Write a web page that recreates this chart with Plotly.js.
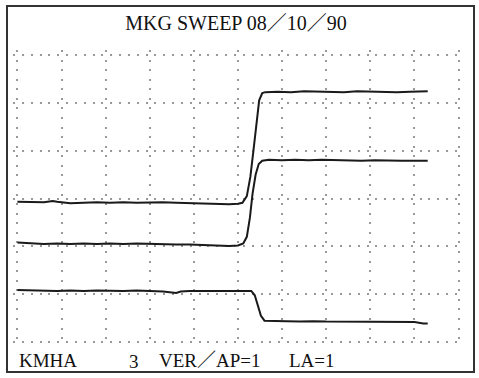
<!DOCTYPE html>
<html>
<head>
<meta charset="utf-8">
<script src="https://cdn.plot.ly/plotly-3.0.1.min.js"></script>
<style>html,body{margin:0;padding:0;background:#fff;}#chart{width:479px;height:378px;}</style>
</head>
<body>
<div id="chart"></div>
<script>
// Values in screen divisions (x: 10 divisions, y: 6 divisions)
const traceA_x = [0.0,0.3,0.6,0.8,0.9,1.2,1.5,1.8,2.1,2.4,2.7,3.0,3.3,3.6,3.9,4.2,4.5,4.8,5.0,5.1,5.2,5.28,5.35,5.42,5.48,5.55,5.62,5.9,6.2,6.5,6.8,7.1,7.4,7.7,8.0,8.3,8.6,8.9,9.1,9.3];
const traceA_y = [2.93,2.93,2.92,2.95,2.93,2.90,2.91,2.92,2.91,2.92,2.91,2.92,2.92,2.91,2.90,2.90,2.89,2.88,2.89,2.91,3.05,3.45,4.00,4.60,5.05,5.20,5.22,5.23,5.22,5.24,5.23,5.23,5.22,5.24,5.23,5.23,5.22,5.23,5.24,5.24];

const traceB_x = [0.0,0.3,0.6,0.9,1.2,1.5,1.8,2.1,2.4,2.7,3.0,3.3,3.6,3.9,4.2,4.5,4.8,5.0,5.12,5.2,5.27,5.33,5.40,5.47,5.55,5.7,6.0,6.3,6.6,6.9,7.2,7.5,7.8,8.1,8.4,8.7,9.0,9.3];
const traceB_y = [2.08,2.06,2.05,2.06,2.05,2.06,2.05,2.06,2.05,2.06,2.05,2.05,2.04,2.04,2.03,2.01,2.01,2.02,2.06,2.20,2.60,3.10,3.50,3.72,3.79,3.81,3.80,3.81,3.80,3.81,3.80,3.80,3.79,3.80,3.79,3.79,3.79,3.79];

const traceC_x = [0.0,0.3,0.6,0.9,1.2,1.5,1.8,2.1,2.4,2.7,3.0,3.3,3.6,3.7,3.9,4.2,4.5,4.8,5.0,5.2,5.3,5.38,5.45,5.52,5.6,5.8,6.1,6.4,6.7,7.0,7.3,7.6,7.9,8.2,8.5,8.8,9.0,9.2,9.3];
const traceC_y = [1.09,1.08,1.08,1.07,1.08,1.07,1.08,1.07,1.07,1.08,1.07,1.06,1.03,1.06,1.07,1.07,1.07,1.07,1.07,1.08,1.07,0.98,0.78,0.55,0.45,0.44,0.44,0.43,0.44,0.43,0.43,0.42,0.43,0.42,0.42,0.42,0.42,0.39,0.39];

const titleText = 'MKG SWEEP 08／10／90';
const footerTexts = ['KMHA', '3', 'VER／AP=1', 'LA=1'];

// plot-area geometry (pixels)
const L = 13, R = 16, T = 50, B = 31;
const W = 479 - L - R, H = 378 - T - B;
const px = v => (v - L) / W;          // pixel x -> paper x
const py = v => (378 - B - v) / H;    // pixel y -> paper y

const lineStyle = {color: '#1a1a1a', width: 2};
const data = [
  {x: traceA_x, y: traceA_y, mode: 'lines', line: lineStyle, hoverinfo: 'none'},
  {x: traceB_x, y: traceB_y, mode: 'lines', line: lineStyle, hoverinfo: 'none'},
  {x: traceC_x, y: traceC_y, mode: 'lines', line: lineStyle, hoverinfo: 'none'}
];

const serif = 'Liberation Serif, Noto Sans CJK JP, serif';
const fnt = {family: serif, size: 19, color: '#111'};
const layout = {
  width: 479, height: 378,
  margin: {l: L, r: R, t: T, b: B},
  paper_bgcolor: '#ffffff', plot_bgcolor: '#ffffff',
  showlegend: false,
  title: {text: titleText, x: 236/479, xanchor: 'center', y: 1 - 23/378, yanchor: 'middle',
          font: {family: serif, size: 20, color: '#111'}},
  xaxis: {range: [-0.1, 10.1], dtick: 1, tick0: 0, showticklabels: false, ticks: '', zeroline: false,
          showline: false, showgrid: true, gridcolor: '#999', gridwidth: 2, griddash: '2px,7.57px'},
  yaxis: {range: [-0.1, 6.1], dtick: 1, tick0: 0, showticklabels: false, ticks: '', zeroline: false,
          showline: false, showgrid: true, gridcolor: '#999', gridwidth: 2, griddash: '2px,6.84px'},
  shapes: [{type: 'rect', xref: 'paper', yref: 'paper',
            x0: px(7), x1: px(474), y0: py(372), y1: py(6),
            line: {color: '#333', width: 2}, fillcolor: 'rgba(0,0,0,0)'}],
  annotations: [
    {text: footerTexts[0], xref: 'paper', yref: 'paper', x: px(17), xanchor: 'left', y: py(360), yanchor: 'middle', showarrow: false, font: fnt},
    {text: footerTexts[1], xref: 'paper', yref: 'paper', x: px(134), xanchor: 'center', y: py(361), yanchor: 'middle', showarrow: false, font: fnt},
    {text: footerTexts[2], xref: 'paper', yref: 'paper', x: px(157), xanchor: 'left', y: py(360), yanchor: 'middle', showarrow: false, font: fnt},
    {text: footerTexts[3], xref: 'paper', yref: 'paper', x: px(287), xanchor: 'left', y: py(360), yanchor: 'middle', showarrow: false, font: fnt}
  ]
};
Plotly.newPlot('chart', data, layout, {staticPlot: true, displayModeBar: false});
</script>
</body>
</html>
